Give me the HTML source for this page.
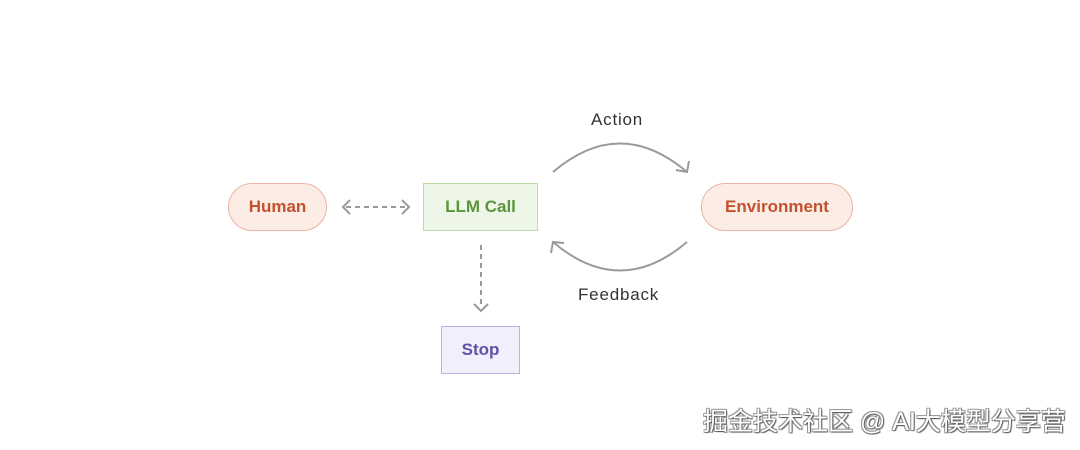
<!DOCTYPE html>
<html><head><meta charset="utf-8"><style>
html,body{margin:0;padding:0;background:#fff;}
body{width:1080px;height:450px;position:relative;overflow:hidden;font-family:"Liberation Sans",sans-serif;}
.n{position:absolute;box-sizing:border-box;display:flex;align-items:center;justify-content:center;font-weight:bold;font-size:17px;}
.l{position:absolute;font-size:17px;color:#333;letter-spacing:0.8px;}
.wm{position:absolute;left:703px;top:402px;font-family:"Liberation Sans","Noto Sans CJK SC",sans-serif;font-size:25px;color:#fff;text-shadow:1px 1px 1px #555,-1px -1px 0 #999,1px -1px 0 #999,-1px 1px 0 #999;white-space:nowrap;}
</style></head><body>
<svg width="1080" height="450" style="position:absolute;left:0;top:0">
<g fill="none" stroke="#9a9a98" stroke-width="2">
<line x1="346" y1="207" x2="406" y2="207" stroke-dasharray="5,4"/>
<polyline points="350,200 343,207 350,214"/>
<polyline points="402,200 409,207 402,214"/>
<line x1="481" y1="245" x2="481" y2="308" stroke-dasharray="5,4"/>
<polyline points="474,304 481,311 488,304"/>
<path d="M553,172 Q620,115 687,172"/>
<polyline points="676,170 687,172 689,161"/>
<path d="M687,242 Q620,299 553,242"/>
<polyline points="551,253 553,242 564,243"/>
</g>
</svg>
<div class="n" style="left:228px;top:183px;width:99px;height:48px;border:1px solid #eab5a3;background:#fcece6;border-radius:24px;color:#c2522f">Human</div>
<div class="n" style="left:423px;top:183px;width:115px;height:48px;border:1px solid #bcdcaa;background:#edf6e7;color:#5c953a">LLM Call</div>
<div class="n" style="left:441px;top:326px;width:79px;height:48px;border:1px solid #b8b3dc;background:#f1effb;color:#5d53a8">Stop</div>
<div class="n" style="left:701px;top:183px;width:152px;height:48px;border:1px solid #eab5a3;background:#fcece6;border-radius:24px;color:#c2522f">Environment</div>
<div class="l" style="left:591px;top:110px">Action</div>
<div class="l" style="left:578px;top:285px">Feedback</div>
<div class="wm">掘金技术社区 @ AI大模型分享营</div>
</body></html>
